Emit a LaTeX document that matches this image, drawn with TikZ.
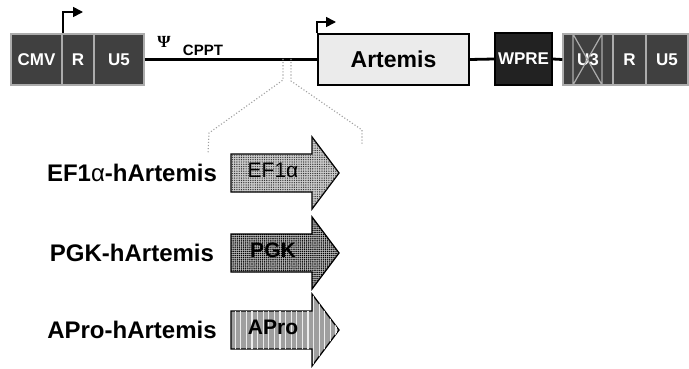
\documentclass[tikz,border=0pt]{standalone}
\usepackage{fontspec}
\setmainfont{Liberation Sans}
\newfontfamily\psifont{Liberation Serif}
\usetikzlibrary{positioning,arrows.meta,calc,patterns.meta}
\definecolor{ltr}{RGB}{64,64,64}
\definecolor{ltredge}{RGB}{172,172,172}
\definecolor{wpr}{RGB}{34,34,34}
\definecolor{orf}{RGB}{235,235,235}
\newcommand{\promarrow}[5]{%
  \path[#2,draw=black,line width=1.3pt] (231,#1-19) -- (312,#1-19) -- (312,#1-36) -- (339,#1)
     -- (312,#1+36) -- (312,#1+19) -- (231,#1+19) -- cycle;
  \node[arrtxt] (#3) at (273,#1-3) {#4};
  \node[lbl] (#3lbl) at (132,#1) {#5};}

\begin{document}
\begin{tikzpicture}[x=1pt,y=-1pt,
  ltrbox/.style={draw=ltredge,fill=ltr,line width=1.4pt,minimum height=51pt,inner sep=0pt,
     text=white,font=\fontsize{17}{20}\selectfont\bfseries},
  lbl/.style={inner sep=0pt,font=\fontsize{24}{28}\selectfont\bfseries},
  arrtxt/.style={inner sep=0pt,font=\fontsize{21}{24}\selectfont\bfseries,text=black},
  tss/.style={line width=1.6pt,-{Triangle[length=10pt,width=10pt]}},
  backbone/.style={line width=2.8pt},
  guide/.style={gray!75,dotted,line width=1.1pt}]
\useasboundingbox (0,0) rectangle (689,369);
% ---- 5' LTR ----
\node[ltrbox,minimum width=51pt] (cmv) at (36.5,59.5) {CMV};
\node[ltrbox,minimum width=32pt] (r1) at (78,59.5) {R};
\node[ltrbox,minimum width=50pt] (u5a) at (119,59.5) {U5};
% ---- transgene, WPRE ----
\node[draw=black,fill=orf,line width=1.5pt,minimum width=151pt,minimum height=51pt,
  font=\fontsize{23}{26}\selectfont\bfseries] (artemis) at (393.5,59.5) {Artemis};
\node[draw=black,fill=wpr,line width=1.2pt,minimum width=57pt,minimum height=52pt,inner sep=0pt,
  text=white,font=\fontsize{17}{20}\selectfont\bfseries] (wpre) at (523.5,59) {WPRE};
% ---- SIN 3' LTR ----
\node[ltrbox,minimum width=50pt] (u3) at (588,59.5) {U3};
\draw[ltredge,line width=1.2pt] (573,34) rectangle (602,85) (573,34) -- (602,85) (602,34) -- (573,85);
\node[ltrbox,minimum width=32pt] (r2) at (629.5,59.5) {R};
\node[ltrbox,minimum width=42pt] (u5b) at (667,59.5) {U5};
% ---- backbone ----
\draw[backbone] (u5a.east) -- (artemis.west);
\draw[backbone] (artemis.east) -- (wpre.west);
\draw[backbone] (wpre.east) -- (u3.west);
\node[inner sep=0pt,font=\fontsize{17}{20}\selectfont\psifont\bfseries] (psi) at (164,42) {Ψ};
\node[inner sep=0pt,font=\fontsize{15}{17}\selectfont\bfseries] (cppt) at (203,50) {CPPT};
% ---- transcription start sites ----
\coordinate (cmvtss) at (83,12);
\coordinate (orftss) at (336,22);
\draw[tss] (cmv.north east) |- (cmvtss);
\draw[tss] (artemis.north west) |- (orftss);
% ---- insertion site, expanded ----
\draw[guide] (283,59) -- (283,80) -- (209,133) -- (208,154);
\draw[guide] (291,59) -- (291,81) -- (362,130) -- (362,144);
% ---- internal promoters ----
\promarrow{173}{fill=gray!40,postaction={pattern={Dots[distance=2.3pt,radius=0.7pt]},pattern color=black!80}}{ef}{\mdseries EF1α}{EF1{\mdseries α}-hArtemis}
\promarrow{253}{fill=gray!55,postaction={pattern={Dots[distance=2.1pt,radius=0.8pt]},pattern color=black}}{pgk}{PGK}{PGK-hArtemis}
\promarrow{330}{fill=gray!75,postaction={pattern={Lines[angle=90,distance=5.6pt,line width=1.2pt]},pattern color=white!85!gray}}{apro}{APro}{APro-hArtemis}
\end{tikzpicture}
\end{document}
